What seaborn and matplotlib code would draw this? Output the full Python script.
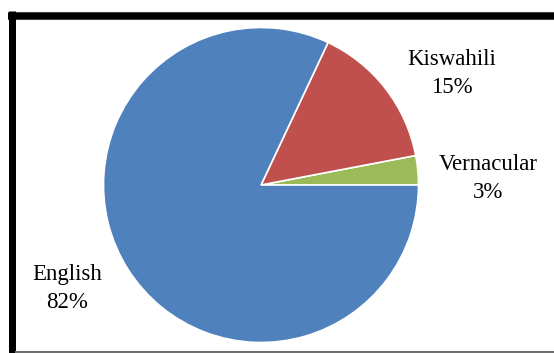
import matplotlib
matplotlib.use("Agg")
import matplotlib.pyplot as plt
from matplotlib.lines import Line2D
import seaborn as sns

# Language shares
languages = ["Vernacular", "Kiswahili", "English"]
shares = [3, 15, 82]
colors = ["#9BBB59", "#C0504D", "#4F81BD"]

sns.set_theme(style="white")
plt.rcParams["font.family"] = ["Liberation Serif", "DejaVu Serif"]

W, H = 554, 353
fig = plt.figure(figsize=(W / 100, H / 100), dpi=100)
fig.patch.set_facecolor("white")

# axes measured in pixels, y pointing up
ax = fig.add_axes([0, 0, 1, 1])
ax.set_xlim(0, W)
ax.set_ylim(0, H)
ax.set_aspect("equal")
ax.axis("off")

cx, cy, r = 261, H - 185, 157.5
ax.pie(shares, colors=colors, startangle=0, counterclock=True,
       center=(cx, cy), radius=r, frame=True,
       wedgeprops=dict(edgecolor="white", linewidth=1.2))
ax.set_xlim(0, W)
ax.set_ylim(0, H)
ax.axis("off")

# label anchors (pixel x, pixel baseline of the name line)
label_pos = {"Kiswahili": (452, 65), "Vernacular": (488, 170), "English": (67, 280)}
for name, val in zip(languages, shares):
    x, yb = label_pos[name]
    ax.text(x, H - yb, name, ha="center", va="baseline", fontsize=16.5, color="black")
    ax.text(x, H - yb - 28, f"{val}%", ha="center", va="baseline", fontsize=16.5, color="black")

# outer frame: heavy black on left and top, thin grey at bottom
fig.add_artist(Line2D([11.5 / W, 11.5 / W], [0, 1 - 11 / H], transform=fig.transFigure,
                      color="black", linewidth=7 * 0.72, solid_capstyle="butt"))
fig.add_artist(Line2D([8 / W, 1], [1 - 15.5 / H, 1 - 15.5 / H], transform=fig.transFigure,
                      color="black", linewidth=7.5 * 0.72, solid_capstyle="butt"))
fig.add_artist(Line2D([15 / W, 1], [1.2 / H, 1.2 / H], transform=fig.transFigure,
                      color="#707070", linewidth=1.5, solid_capstyle="butt"))

fig.savefig("out.png", dpi=100, facecolor="white")
